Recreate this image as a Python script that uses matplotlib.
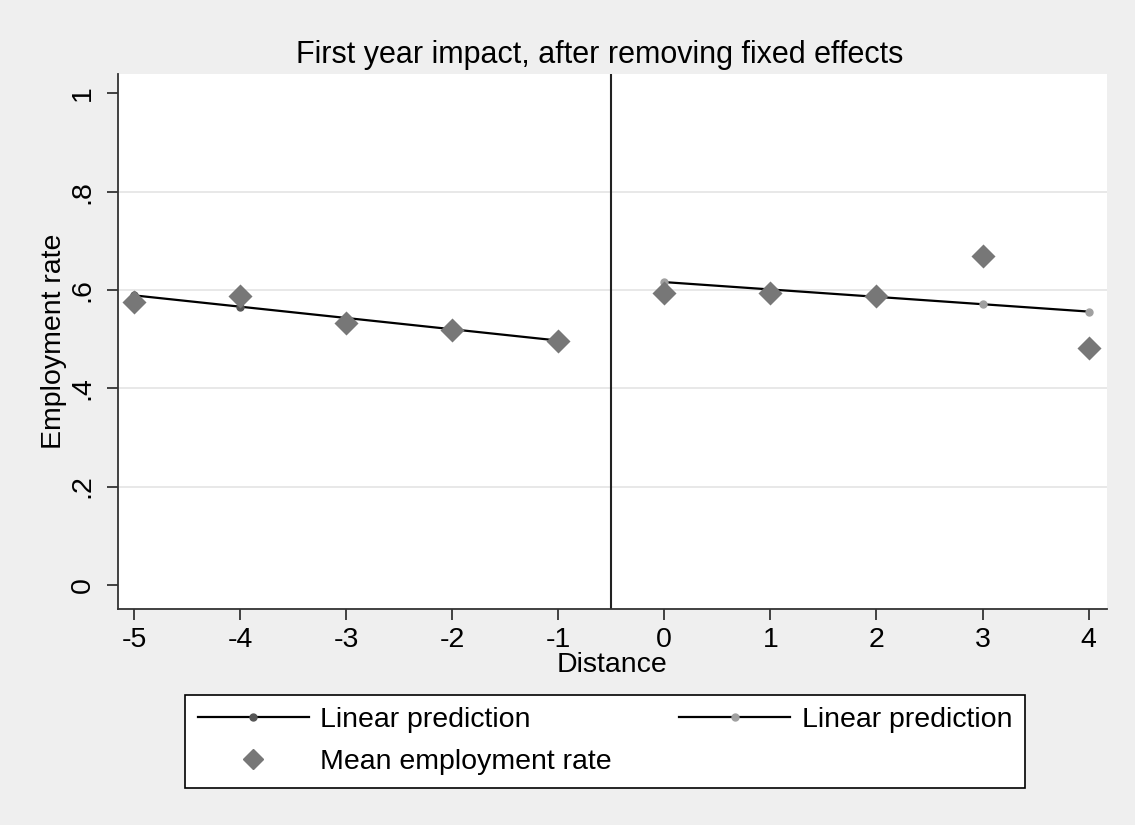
import matplotlib.pyplot as plt
import numpy as np
from matplotlib.lines import Line2D

plt.rcParams['font.family'] = ['Liberation Sans', 'DejaVu Sans']
plt.rcParams['axes.unicode_minus'] = False

# Data
dist_left = np.array([-5, -4, -3, -2, -1])
pred_left = np.array([0.589, 0.566, 0.543, 0.520, 0.497])
mean_left = np.array([0.576, 0.587, 0.533, 0.518, 0.496])

dist_right = np.array([0, 1, 2, 3, 4])
pred_right = np.array([0.616, 0.601, 0.586, 0.571, 0.556])
mean_right = np.array([0.593, 0.594, 0.587, 0.669, 0.481])

x_ticks = [-5, -4, -3, -2, -1, 0, 1, 2, 3, 4]
y_ticks = [0, 0.2, 0.4, 0.6, 0.8, 1]
y_ticklabels = ['0', '.2', '.4', '.6', '.8', '1']

bg = '#efefef'
fs = 20.5
fig = plt.figure(figsize=(11.35, 8.25), dpi=100, facecolor=bg)
ax = fig.add_axes([0.104, 0.262, 0.871, 0.648])
ax.set_facecolor('white')

for y in y_ticks[1:-1]:
    ax.axhline(y, color='#e4e4e4', lw=1.2, zorder=0)

ax.axvline(-0.5, color='#222222', lw=1.5, zorder=1)

ax.plot(dist_left, pred_left, color='black', lw=1.6, marker='o', ms=5,
        mfc='#555555', mec='#555555', zorder=2)
ax.plot(dist_right, pred_right, color='black', lw=1.6, marker='o', ms=5,
        mfc='#a0a0a0', mec='#a0a0a0', zorder=2)
ax.scatter(np.concatenate([dist_left, dist_right]),
           np.concatenate([mean_left, mean_right]),
           marker='D', s=150, color='#777777', zorder=3, linewidths=0)

ax.set_xlim(-5.15, 4.17)
ax.set_ylim(-0.049, 1.039)
ax.set_xticks(x_ticks)
ax.set_yticks(y_ticks)
ax.set_yticklabels(y_ticklabels, rotation=90, va='center')
ax.tick_params(axis='both', labelsize=fs, length=8, width=1.3, color='#333333', pad=5)
ax.tick_params(axis='y', pad=8)

for s in ['top', 'right']:
    ax.spines[s].set_visible(False)
for s in ['left', 'bottom']:
    ax.spines[s].set_color('#333333')
    ax.spines[s].set_linewidth(1.3)

ax.set_xlabel('Distance', fontsize=fs, labelpad=-1)
ax.set_ylabel('Employment rate', fontsize=fs, labelpad=2)
ax.set_title('First year impact, after removing fixed effects', fontsize=22, pad=8, x=0.487)

h1 = Line2D([], [], color='black', lw=1.6, marker='o', ms=5, mfc='#555555', mec='#555555')
h2 = Line2D([], [], color='black', lw=1.6, marker='o', ms=5, mfc='#a0a0a0', mec='#a0a0a0')
h3 = Line2D([], [], ls='none', marker='D', ms=10, color='#777777')
leg = fig.legend([h1, h3, h2], ['Linear prediction', 'Mean employment rate', 'Linear prediction'],
                 ncol=2, loc='lower left', bbox_to_anchor=(0.163, 0.045, 0.74, 0.113),
                 mode='expand', fontsize=fs, handlelength=3.9, frameon=True,
                 fancybox=False, edgecolor='black', framealpha=1, borderaxespad=0,
                 labelspacing=0.55, borderpad=0.45, handletextpad=0.4)
leg.get_frame().set_linewidth(1.2)
leg.get_frame().set_facecolor('white')

fig.savefig('out.png', dpi=100, facecolor=bg)
